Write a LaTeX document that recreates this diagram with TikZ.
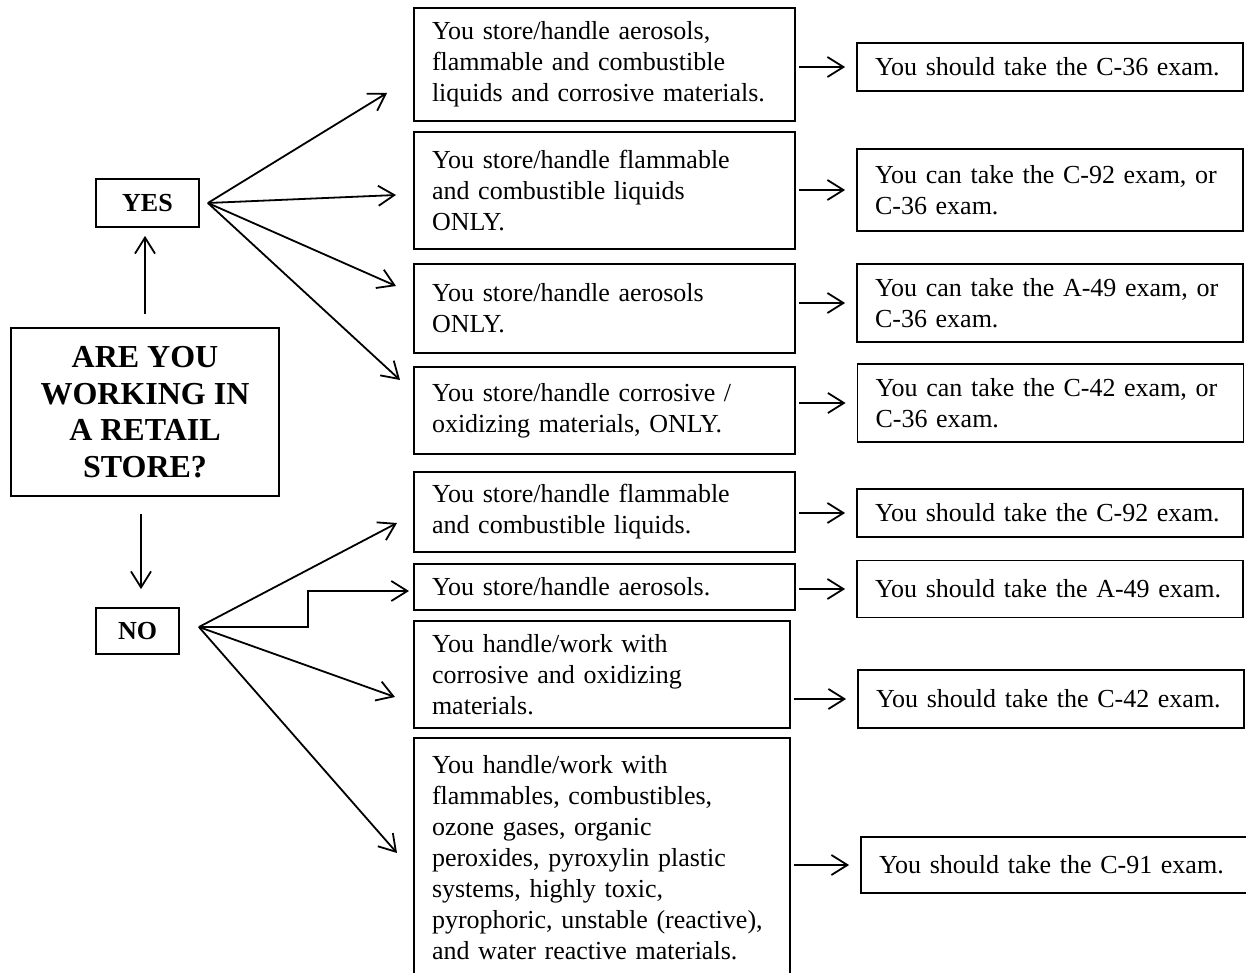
\documentclass[tikz,border=0pt]{standalone}
\usepackage{fontspec}
\setmainfont{Liberation Serif}
\usetikzlibrary{arrows.meta}

\tikzset{
    box/.style={draw, line width=0.9pt, inner xsep=9pt, inner ysep=2pt, align=left,
        font=\fontsize{13}{15.5}\selectfont},
    arr/.style={line width=0.9pt, -{Straight Barb[length=8pt,width=10pt]}},
}

\begin{document}
\begin{tikzpicture}[x=0.5pt, y=-0.5pt]

\useasboundingbox (0,0) rectangle (1246,973);
\clip (0,0) rectangle (1246,973);

\node[draw, line width=0.9pt, minimum width=134pt, minimum height=84pt, align=center,
    font=\bfseries\fontsize{16}{18.3}\selectfont] (q) at (145,412)
    {ARE YOU\\WORKING IN\\A RETAIL\\STORE?};
\node[draw, line width=0.9pt, minimum width=51.5pt, minimum height=24pt,
    font=\bfseries\fontsize{13}{15}\selectfont] (yes) at (147.5,203) {YES};
\node[draw, line width=0.9pt, minimum width=41.5pt, minimum height=23pt,
    font=\bfseries\fontsize{13}{15}\selectfont] (no) at (137.5,631) {NO};

% conditions
\foreach \nm/\xx/\yy/\ww/\hh/\txt in {
    c1/604.5/64.5/172.5/56.5/{You store/handle aerosols,\\flammable and combustible\\liquids and corrosive materials.},
    c2/604.5/190.5/172.5/58.5/{You store/handle flammable\\and combustible liquids\\ONLY.},
    c3/604.5/308.5/172.5/44.5/{You store/handle aerosols\\ONLY.},
    c4/604.5/410.5/172.5/43.5/{You store/handle corrosive /\\oxidizing materials, ONLY.},
    c5/604.5/512/172.5/40/{You store/handle flammable\\and combustible liquids.},
    c6/604.5/587/172.5/23/{You store/handle aerosols.},
    c7/602/674.5/170/53.5/{You handle/work with\\corrosive and oxidizing\\materials.},
    c8/602/858/170/120/{You handle/work with\\flammables, combustibles,\\ozone gases, organic\\peroxides, pyroxylin plastic\\systems, highly toxic,\\pyrophoric, unstable (reactive),\\and water reactive materials.}
} {
    \node[box, text width=\ww pt, minimum height=\hh pt] (\nm) at (\xx,\yy) {\txt};
}

% exams
\foreach \nm/\xx/\yy/\ww/\hh/\txt in {
    r1/1050/67/175/24/{You should take the C-36 exam.},
    r2/1050/190/175/41/{You can take the C-92 exam, or\\C-36 exam.},
    r3/1050/303/175/39/{You can take the A-49 exam, or\\C-36 exam.},
    r4/1050.5/403/175/39/{You can take the C-42 exam, or\\C-36 exam.},
    r5/1050/513/175/24/{You should take the C-92 exam.},
    r6/1050/589/175/28.5/{You should take the A-49 exam.},
    r7/1051/699/175/29/{You should take the C-42 exam.},
    r8/1055.5/865/176.5/28/{You should take the C-91 exam.}
} {
    \node[box, text width=\ww pt, minimum height=\hh pt] (\nm) at (\xx,\yy) {\txt};
}

% up and down from the question
\draw[arr, shorten <=6.5pt, shorten >=4pt] (q.north) -- (q.north |- yes.south);
\draw[arr, shorten <=8.5pt, shorten >=9pt] ([xshift=-2pt]q.south) -- ([xshift=-2pt]q.south |- no.north);

% fans
\coordinate (yhub) at ([xshift=4pt]yes.east);
\coordinate (y1) at (387,93);
\coordinate (y2) at (396,195);
\coordinate (y3) at (396,286);
\coordinate (y4) at (400,380);
\coordinate (nhub) at ([xshift=9.5pt, yshift=2pt]no.east);
\coordinate (n1) at (397,523);
\coordinate (n2) at (409,591);
\coordinate (n3) at (395,697);
\coordinate (n4) at (397,853);

\foreach \t in {y1,y2,y3,y4} {
    \draw[arr] (yhub) -- (\t);
}
\foreach \t in {n1,n3,n4} {
    \draw[arr] (nhub) -- (\t);
}
\draw[arr] (nhub) -- ++(109,0) |- (n2); % step up

% conditions to exams
\foreach \c/\r in {c1/r1,c2/r2,c3/r3,c4/r4,c5/r5,c6/r6,c7/r7,c8/r8} {
    \draw[arr, shorten <=1.5pt, shorten >=5.5pt] (\r.west -| \c.east) -- (\r.west);
}

\end{tikzpicture}
\end{document}
